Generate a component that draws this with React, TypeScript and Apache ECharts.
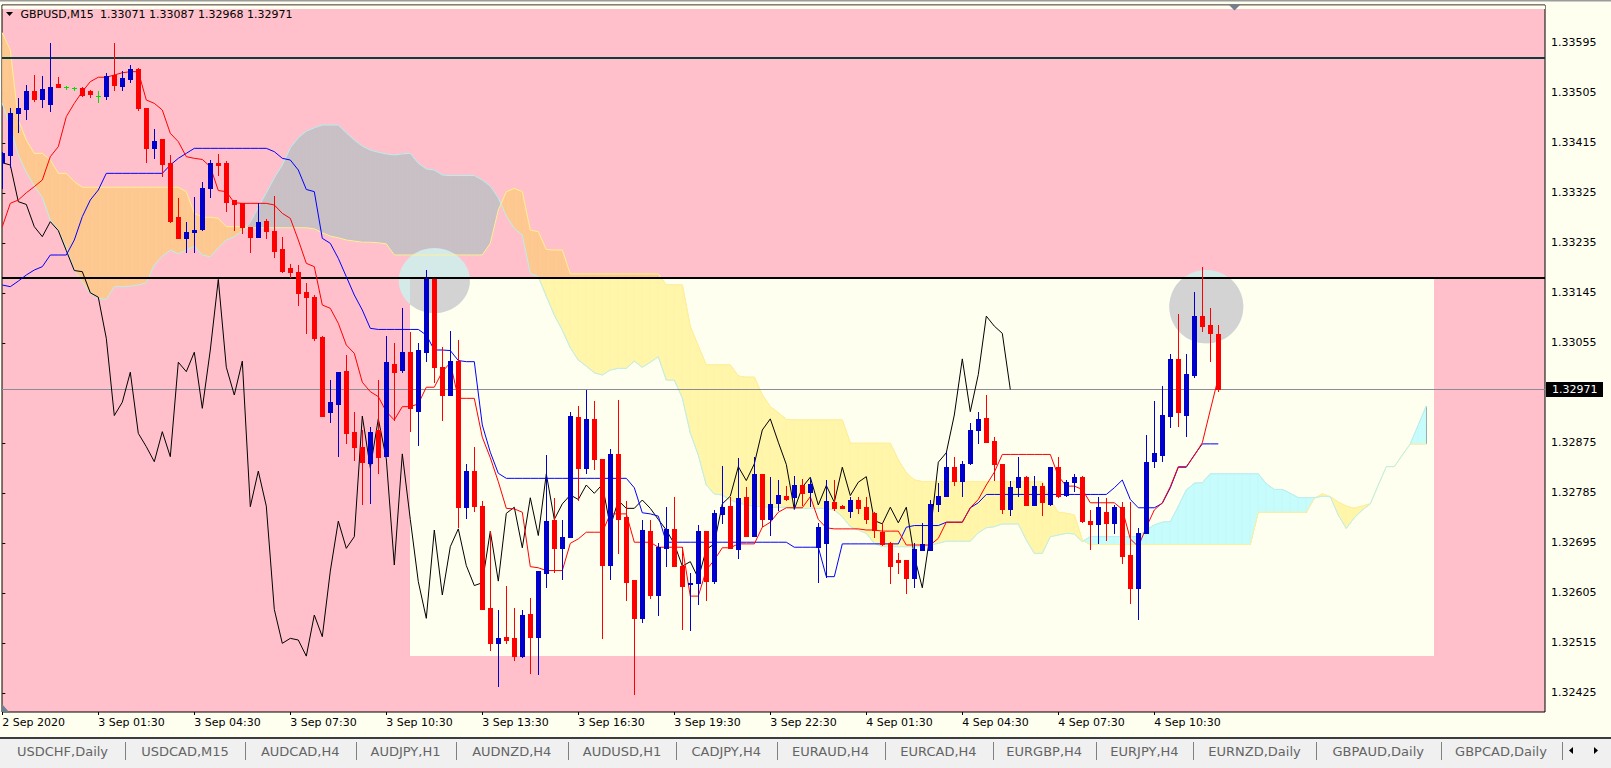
import React, { useEffect, useRef } from "react";
import * as echarts from "echarts";

// ---------- data (M15 bars, index 0 = 2 Sep 22:30) ----------
const SYMBOL = "GBPUSD,M15";

const OPEN = [
  1.3338, 1.33393, 1.33469, 1.33476, 1.33508, 1.33494, 1.33484, 1.3352, 1.33515, 1.33513,
  1.33513, 1.33508, 1.33499, 1.33499, 1.33537, 1.33517, 1.3353, 1.33548, 1.33478, 1.33406,
  1.33422, 1.33378, 1.33282, 1.33244, 1.33254, 1.33259, 1.33333, 1.33379, 1.33378, 1.33312,
  1.33306, 1.33264, 1.33246, 1.33275, 1.33257, 1.33224, 1.33189, 1.33183, 1.33146, 1.33137,
  1.33065, 1.3293, 1.32944, 1.33004, 1.32894, 1.32868, 1.32838, 1.32898, 1.32852, 1.33016,
  1.33006, 1.33038, 1.32932, 1.33039, 1.33169, 1.33011, 1.32961, 1.33022, 1.3276, 1.32824,
  1.32761, 1.32577, 1.32514, 1.32525, 1.32523, 1.32491, 1.32566, 1.32525, 1.3264, 1.32736,
  1.32685, 1.32705, 1.32922, 1.3283, 1.32918, 1.32846, 1.32655, 1.32855, 1.32742, 1.32628,
  1.32559, 1.32716, 1.32601, 1.32685, 1.3272, 1.32654, 1.3262, 1.32622, 1.32716, 1.32626,
  1.32746, 1.32761, 1.32683, 1.32778, 1.32708, 1.32819, 1.32737, 1.32766, 1.32779, 1.32777,
  1.32799, 1.32787, 1.32688, 1.32695, 1.32768, 1.32762, 1.32753, 1.32772, 1.32759, 1.32748,
  1.32715, 1.32694, 1.32664, 1.32664, 1.32631, 1.32682, 1.32682, 1.32765, 1.32779, 1.32832,
  1.32807, 1.32839, 1.32898, 1.32919, 1.32878, 1.32837, 1.32755, 1.32795, 1.32813, 1.32763,
  1.32798, 1.32765, 1.32832, 1.32781, 1.32804, 1.32814, 1.32735, 1.32729, 1.32751, 1.32731,
  1.32759, 1.32673, 1.32614, 1.32712, 1.32843, 1.32853, 1.32923, 1.33026, 1.32925, 1.32997,
  1.33103, 1.33087, 1.33071,
];
const HIGH = [
  1.33399, 1.33477, 1.33495, 1.33519, 1.33537, 1.33535, 1.33595, 1.33533, 1.33518, 1.33515,
  1.33515, 1.3351, 1.33509, 1.33541, 1.33594, 1.33544, 1.33555, 1.33549, 1.33478, 1.33439,
  1.33422, 1.33393, 1.33315, 1.33272, 1.33318, 1.33344, 1.33384, 1.33395, 1.33382, 1.33312,
  1.33306, 1.33264, 1.33306, 1.33278, 1.33319, 1.33245, 1.33197, 1.33195, 1.33163, 1.33141,
  1.33067, 1.32988, 1.33002, 1.33033, 1.3293, 1.32898, 1.32904, 1.32988, 1.33067, 1.33054,
  1.33117, 1.33075, 1.33055, 1.33186, 1.33169, 1.33048, 1.33076, 1.3306, 1.32836, 1.32867,
  1.3277, 1.32716, 1.32574, 1.32617, 1.32577, 1.32574, 1.32595, 1.32644, 1.32853, 1.32776,
  1.32736, 1.3293, 1.32942, 1.3297, 1.32951, 1.32846, 1.32863, 1.32952, 1.32771, 1.32628,
  1.32736, 1.32736, 1.32694, 1.32759, 1.32777, 1.32688, 1.3264, 1.32727, 1.32716, 1.32754,
  1.32833, 1.32778, 1.32847, 1.32795, 1.32849, 1.32819, 1.32814, 1.32808, 1.32797, 1.32815,
  1.32809, 1.32811, 1.3273, 1.32808, 1.32808, 1.32763, 1.32777, 1.32777, 1.32778, 1.32751,
  1.3273, 1.32696, 1.32676, 1.32664, 1.32694, 1.3273, 1.32772, 1.32802, 1.32859, 1.32849,
  1.32842, 1.32911, 1.3293, 1.32961, 1.32886, 1.32837, 1.32806, 1.3285, 1.32816, 1.32816,
  1.32802, 1.32831, 1.3285, 1.32808, 1.32819, 1.32815, 1.32754, 1.32778, 1.32775, 1.32763,
  1.32769, 1.32769, 1.32721, 1.32889, 1.3295, 1.32977, 1.33035, 1.33107, 1.33035, 1.33147,
  1.33192, 1.33118, 1.33087,
];
const LOW = [
  1.33334, 1.33372, 1.33435, 1.33457, 1.33491, 1.3348, 1.33472, 1.33515, 1.33512, 1.3351,
  1.33499, 1.33498, 1.33489, 1.33493, 1.3351, 1.3351, 1.33525, 1.33474, 1.33381, 1.33388,
  1.33356, 1.33272, 1.33244, 1.33218, 1.33218, 1.33258, 1.33318, 1.33357, 1.33292, 1.33258,
  1.33253, 1.33219, 1.33245, 1.33244, 1.3321, 1.33183, 1.33174, 1.33123, 1.33072, 1.3306,
  1.32924, 1.32913, 1.32852, 1.32874, 1.32844, 1.32764, 1.32766, 1.3282, 1.32852, 1.32916,
  1.33003, 1.32896, 1.32871, 1.33023, 1.32985, 1.32916, 1.32961, 1.32724, 1.3274, 1.32752,
  1.32575, 1.32502, 1.32437, 1.32514, 1.32484, 1.32489, 1.32461, 1.32459, 1.32615, 1.32643,
  1.32629, 1.32705, 1.32772, 1.32821, 1.32827, 1.32523, 1.32629, 1.32677, 1.32592, 1.32422,
  1.32553, 1.32595, 1.32565, 1.32653, 1.32654, 1.3254, 1.32538, 1.32584, 1.32592, 1.32623,
  1.3273, 1.32686, 1.32667, 1.32708, 1.32708, 1.32725, 1.32709, 1.32754, 1.32772, 1.32757,
  1.32763, 1.32761, 1.32625, 1.32634, 1.32754, 1.32757, 1.32742, 1.32748, 1.3273, 1.32705,
  1.32691, 1.32623, 1.3264, 1.32604, 1.32616, 1.32682, 1.32682, 1.32752, 1.32779, 1.32799,
  1.32779, 1.32836, 1.32875, 1.32876, 1.32808, 1.32748, 1.32745, 1.32779, 1.32763, 1.32763,
  1.32745, 1.32763, 1.32778, 1.32779, 1.32789, 1.32732, 1.32683, 1.32694, 1.327, 1.32712,
  1.32659, 1.32586, 1.32557, 1.32712, 1.32832, 1.32843, 1.32904, 1.32905, 1.32887, 1.32993,
  1.33077, 1.33023, 1.32968,
];
const CLOSE = [
  1.33397, 1.33468, 1.33477, 1.33508, 1.33494, 1.33511, 1.33515, 1.33515, 1.33515, 1.33513,
  1.33501, 1.33502, 1.33499, 1.33535, 1.33519, 1.33531, 1.33548, 1.33477, 1.33406, 1.33418,
  1.33377, 1.33274, 1.33244, 1.33254, 1.33258, 1.33334, 1.33379, 1.33375, 1.33309, 1.33304,
  1.33264, 1.33246, 1.33273, 1.33257, 1.33221, 1.33185, 1.33183, 1.33145, 1.33137, 1.33063,
  1.32924, 1.32948, 1.33002, 1.32892, 1.32868, 1.32841, 1.32895, 1.3285, 1.3302, 1.33003,
  1.33038, 1.32937, 1.33042, 1.33169, 1.33011, 1.32961, 1.33022, 1.3276, 1.32824, 1.32761,
  1.32575, 1.32514, 1.32523, 1.3252, 1.32491, 1.32565, 1.32526, 1.32644, 1.32734, 1.32685,
  1.32706, 1.32923, 1.3283, 1.32918, 1.32846, 1.32655, 1.32855, 1.32737, 1.32625, 1.32559,
  1.32718, 1.32601, 1.32688, 1.3272, 1.32654, 1.32618, 1.32623, 1.32716, 1.32626, 1.32748,
  1.32759, 1.32686, 1.32776, 1.32708, 1.32819, 1.32737, 1.32765, 1.32781, 1.32773, 1.32799,
  1.32784, 1.328, 1.32724, 1.32771, 1.32757, 1.32757, 1.32772, 1.32757, 1.32737, 1.32718,
  1.32693, 1.32653, 1.32661, 1.32631, 1.32683, 1.32693, 1.32765, 1.32779, 1.32832, 1.32807,
  1.32837, 1.32898, 1.32918, 1.32876, 1.32836, 1.32755, 1.32795, 1.32813, 1.32763, 1.32798,
  1.32768, 1.32831, 1.3278, 1.32804, 1.32814, 1.32735, 1.32729, 1.32759, 1.32731, 1.32759,
  1.32671, 1.32614, 1.32713, 1.3284, 1.32857, 1.32925, 1.33026, 1.32931, 1.32998, 1.33103,
  1.33085, 1.33072, 1.32971,
];

// Ichimoku lines as drawn (tenkan red, kijun blue), bars 0..152
const TENKAN = [
  1.33264, 1.33306, 1.33312, 1.33325, 1.33336, 1.33348, 1.3339, 1.33408, 1.33462, 1.33486,
  1.33507, 1.33525, 1.33533, 1.33533, 1.33537, 1.33541, 1.33543, 1.33543, 1.33492, 1.33486,
  1.33474, 1.33432, 1.33417, 1.3339, 1.33387, 1.33385, 1.33372, 1.33329, 1.33327, 1.33307,
  1.33306, 1.33306, 1.33306, 1.33306, 1.33303, 1.33288, 1.33279, 1.3324, 1.33198, 1.33192,
  1.33123, 1.33117, 1.3309, 1.33051, 1.33036, 1.32984, 1.32967, 1.32958, 1.32931, 1.32916,
  1.3294, 1.3294, 1.32945, 1.32975, 1.32975, 1.33003, 1.33019, 1.32955, 1.32955, 1.32955,
  1.32885, 1.32848, 1.32805, 1.32757, 1.32756, 1.3275, 1.32652, 1.3265, 1.32645, 1.32645,
  1.32645, 1.32694, 1.32702, 1.32714, 1.32714, 1.32714, 1.32747, 1.32747, 1.32747, 1.32696,
  1.32696, 1.32696, 1.32687, 1.32687, 1.32687, 1.32687, 1.32599, 1.32599, 1.32646, 1.32664,
  1.32686, 1.32686, 1.32693, 1.32693, 1.32693, 1.32723, 1.32732, 1.3275, 1.32758, 1.32758,
  1.32758, 1.32778, 1.32737, 1.32722, 1.3272, 1.3272, 1.3272, 1.3272, 1.32718, 1.32718,
  1.32716, 1.32716, 1.32716, 1.32691, 1.32691, 1.32691, 1.32691, 1.32703, 1.32732, 1.32732,
  1.32732, 1.32758, 1.32773, 1.32799, 1.32822, 1.32854, 1.32854, 1.32854, 1.32854, 1.32854,
  1.32854, 1.32854, 1.32815, 1.32797, 1.32797, 1.32791, 1.32767, 1.32767, 1.32767, 1.32767,
  1.32755, 1.32702, 1.32688, 1.32723, 1.32754, 1.32767, 1.32796, 1.32832, 1.32832, 1.32852,
  1.32875, 1.32934, 1.32992,
];
const KIJUN = [
  1.33159, 1.33156, 1.33166, 1.33177, 1.33186, 1.33192, 1.33213, 1.33213, 1.33213, 1.3324,
  1.33282, 1.33312, 1.3333, 1.3336, 1.3336, 1.3336, 1.3336, 1.3336, 1.3336, 1.3336,
  1.3336, 1.33375, 1.33387, 1.33396, 1.33405, 1.33405, 1.33405, 1.33405, 1.33405, 1.33405,
  1.33405, 1.33405, 1.33405, 1.33405, 1.33399, 1.33387, 1.33384, 1.33366, 1.33331, 1.33327,
  1.33243, 1.33234, 1.33207, 1.33174, 1.33141, 1.33114, 1.33081, 1.33079, 1.33079, 1.33079,
  1.33079, 1.33079, 1.33079, 1.33069, 1.33042, 1.33042, 1.33041, 1.33023, 1.33021, 1.33021,
  1.32907, 1.32858, 1.3282, 1.32811, 1.32811, 1.32811, 1.32811, 1.32811, 1.32811, 1.32811,
  1.32811, 1.32811, 1.32811, 1.32811, 1.32811, 1.32811, 1.32811, 1.32811, 1.32811, 1.32794,
  1.32749, 1.32747, 1.32743, 1.32696, 1.32696, 1.32696, 1.32696, 1.32696, 1.32696, 1.32696,
  1.32696, 1.32696, 1.32696, 1.32696, 1.32696, 1.32696, 1.32696, 1.32696, 1.32696, 1.32687,
  1.32687, 1.32687, 1.32687, 1.32634, 1.32634, 1.32693, 1.32693, 1.32693, 1.32693, 1.32693,
  1.32693, 1.32693, 1.32693, 1.32723, 1.32726, 1.32726, 1.32726, 1.32726, 1.32732, 1.32732,
  1.32732, 1.32758, 1.32767, 1.32782, 1.32782, 1.32782, 1.32782, 1.32782, 1.32782, 1.32782,
  1.32782, 1.32782, 1.32782, 1.32782, 1.32782, 1.32782, 1.32782, 1.32782, 1.32782, 1.32794,
  1.32808, 1.32773, 1.32758, 1.32758, 1.32758, 1.32766, 1.32794, 1.32831, 1.32831, 1.32853,
  1.32873, 1.32873, 1.32873,
];
// Senkou spans as drawn (already shifted 26 bars ahead), bars 0..178
const SPAN_A = [
  1.33613, 1.33582, 1.33456, 1.3342, 1.33396, 1.33396, 1.33384, 1.3336, 1.3336, 1.33345,
  1.33335, 1.33335, 1.33335, 1.33335, 1.33335, 1.33335, 1.33335, 1.33335, 1.33335, 1.33335,
  1.33335, 1.33335, 1.33335, 1.33327, 1.33288, 1.33281, 1.33281, 1.33279, 1.33264, 1.33264,
  1.33264, 1.33262, 1.33262, 1.33262, 1.33262, 1.33262, 1.33262, 1.33262, 1.33262, 1.3326,
  1.33253, 1.33247, 1.33244, 1.3324, 1.33238, 1.33236, 1.33236, 1.33235, 1.33233, 1.33213,
  1.33213, 1.33213, 1.33213, 1.33213, 1.33213, 1.33213, 1.33213, 1.33213, 1.33213, 1.33213,
  1.33213, 1.33234, 1.33294, 1.33327, 1.33333, 1.33327, 1.33258, 1.33255, 1.33223, 1.33222,
  1.33222, 1.33179, 1.33179, 1.33179, 1.33179, 1.33179, 1.33179, 1.33179, 1.33179, 1.33179,
  1.33179, 1.33179, 1.33179, 1.33159, 1.33159, 1.33159, 1.33084, 1.33049, 1.33015, 1.33015,
  1.33015, 1.33015, 1.32995, 1.32993, 1.32993, 1.32961, 1.3294, 1.32929, 1.32917, 1.32916,
  1.32916, 1.32916, 1.32916, 1.32916, 1.32916, 1.32916, 1.32874, 1.32874, 1.32874, 1.32874,
  1.32874, 1.32874, 1.32844, 1.32821, 1.32808, 1.32805, 1.32805, 1.32805, 1.32805, 1.32805,
  1.32805, 1.32805, 1.32805, 1.32805, 1.32805, 1.32805, 1.32805, 1.32805, 1.32805, 1.32805,
  1.32805, 1.32772, 1.3275, 1.32748, 1.32745, 1.327, 1.32692, 1.32692, 1.32692, 1.32692,
  1.32692, 1.32692, 1.32692, 1.32692, 1.32692, 1.32692, 1.32692, 1.32692, 1.32692, 1.32692,
  1.32692, 1.32692, 1.32692, 1.32692, 1.32692, 1.32692, 1.32692, 1.3275, 1.3275, 1.3275,
  1.3275, 1.3275, 1.3275, 1.3275, 1.32775, 1.32783, 1.32778, 1.32768, 1.32761, 1.32757,
  1.32761, 1.32765, 1.32799, 1.32832, 1.32832, 1.32853, 1.32873, 1.32873, 1.32873,
];
const SPAN_B = [
  1.33486, 1.33444, 1.33393, 1.33362, 1.33337, 1.33317, 1.33276, 1.33258, 1.33226, 1.33186,
  1.33164, 1.33144, 1.33135, 1.33133, 1.33156, 1.33156, 1.33157, 1.33159, 1.33163, 1.33195,
  1.33211, 1.33222, 1.33215, 1.33222, 1.33229, 1.33213, 1.3321, 1.33226, 1.3324, 1.33246,
  1.33256, 1.33272, 1.33299, 1.33325, 1.33352, 1.33375, 1.33406, 1.33424, 1.33436, 1.33442,
  1.33447, 1.33447, 1.33447, 1.33433, 1.3342, 1.33409, 1.33402, 1.33398, 1.33395, 1.33393,
  1.33395, 1.33396, 1.33378, 1.33368, 1.33366, 1.33357, 1.33356, 1.33356, 1.33356, 1.33356,
  1.33348, 1.33337, 1.33316, 1.33283, 1.33261, 1.33249, 1.3318, 1.33174, 1.33139, 1.33105,
  1.33078, 1.33046, 1.33024, 1.33013, 1.33001, 1.32997, 1.33006, 1.33009, 1.33009, 1.33022,
  1.33011, 1.3302, 1.3303, 1.32988, 1.32988, 1.32956, 1.32893, 1.32853, 1.32799, 1.32783,
  1.32781, 1.32772, 1.32767, 1.32763, 1.32761, 1.3276, 1.32759, 1.32759, 1.32759, 1.32757,
  1.32757, 1.32757, 1.32757, 1.32757, 1.32754, 1.32742, 1.32724, 1.32718, 1.32712, 1.32694,
  1.32688, 1.32688, 1.32688, 1.32688, 1.32688, 1.32688, 1.32691, 1.32694, 1.32698, 1.32698,
  1.32698, 1.32698, 1.32713, 1.32722, 1.32724, 1.32729, 1.32729, 1.32729, 1.327, 1.32676,
  1.32676, 1.32706, 1.32709, 1.32712, 1.32711, 1.32697, 1.32706, 1.32706, 1.32706, 1.32706,
  1.32706, 1.32706, 1.32706, 1.32718, 1.32727, 1.32732, 1.32733, 1.3276, 1.3279, 1.32802,
  1.32803, 1.32819, 1.32819, 1.32819, 1.32819, 1.32819, 1.32819, 1.32819, 1.32801, 1.32791,
  1.32791, 1.32784, 1.32776, 1.32776, 1.32776, 1.32779, 1.32778, 1.32745, 1.32721, 1.3274,
  1.32754, 1.32765, 1.32799, 1.32832, 1.32832, 1.32853, 1.32873, 1.32907, 1.32941,
];
const CHIKOU_SHIFT = 26; // lagging span = close plotted 26 bars back

const TIME_BARS = [0, 12, 24, 36, 48, 60, 72, 84, 96, 108, 120, 132, 144];
const TIME_LABELS = [
  "2 Sep 2020", "3 Sep 01:30", "3 Sep 04:30", "3 Sep 07:30", "3 Sep 10:30", "3 Sep 13:30",
  "3 Sep 16:30", "3 Sep 19:30", "3 Sep 22:30", "4 Sep 01:30", "4 Sep 04:30", "4 Sep 07:30", "4 Sep 10:30",
];
// the 1.32965 level sits under the bid tag, so its label is not shown
const PRICE_TICKS = [
  1.32425, 1.32515, 1.32605, 1.32695, 1.32785, 1.32875,
  1.33055, 1.33145, 1.33235, 1.33325, 1.33415, 1.33505, 1.33595,
];
const H_LINE_PRICES = [1.33567, 1.33171];
const BID = 1.32971;
// chart objects (time = bar index, price)
const BOX_BARS = [51, 179];
const BOX_PRICES = [1.33171, 1.32492];
const ELLIPSE_BARS = [54, 150.5];
const ELLIPSE_PRICES = [1.33167, 1.3312];
const ELLIPSE_HALF_BARS = [4.44, 4.62];
const ELLIPSE_HALF_PRICES = [0.000585, 0.00066];
const TABS = [
  "USDCHF,Daily", "USDCAD,M15", "AUDCAD,H4", "AUDJPY,H1", "AUDNZD,H4", "AUDUSD,H1", "CADJPY,H4",
  "EURAUD,H4", "EURCAD,H4", "EURGBP,H4", "EURJPY,H4", "EURNZD,Daily", "GBPAUD,Daily", "GBPCAD,Daily",
];

// ---------- layout & style ----------
const X_MIN = -0.0375;
const X_MAX = 192.8375;
const Y_MIN = 1.323904;
const Y_MAX = 1.33663;
const TAB_SEPARATORS = [125, 245, 355.5, 455.5, 568, 676, 776.5, 884.5, 992.5, 1096, 1193, 1316, 1440.5, 1561.5];
const PINK = "#FFC0CB";
const IVORY = "#FFFFF0";
const KUMO_UP_PINK = "#FEC891";
const KUMO_DN_PINK = "#C9C0C5";
const KUMO_UP_IVORY = "#FFF6AA";
const KUMO_DN_IVORY = "#C6FCFC";
const BULL = "#0000CC";
const BEAR = "#FF0000";
const DOJI = "#00DD00";
const H_LINE_COLORS = ["#0E3C3C", "#000000"];
const FONT = '"DejaVu Sans", sans-serif';

type Pt = [number, number];

function clipHalf(pts: Pt[], axis: 0 | 1, val: number, keepGE: boolean): Pt[] {
  const out: Pt[] = [];
  const n = pts.length;
  for (let k = 0; k < n; k++) {
    const cur = pts[k];
    const prev = pts[(k + n - 1) % n];
    const cin = keepGE ? cur[axis] >= val : cur[axis] <= val;
    const pin = keepGE ? prev[axis] >= val : prev[axis] <= val;
    if (cin !== pin) {
      const t = (val - prev[axis]) / (cur[axis] - prev[axis]);
      out.push([prev[0] + t * (cur[0] - prev[0]), prev[1] + t * (cur[1] - prev[1])]);
    }
    if (cin) out.push(cur);
  }
  return out;
}
function clipToBox(pts: Pt[], b: number[]): Pt[] {
  let p = clipHalf(pts, 0, b[0], true);
  if (p.length) p = clipHalf(p, 0, b[2], false);
  if (p.length) p = clipHalf(p, 1, b[1], true);
  if (p.length) p = clipHalf(p, 1, b[3], false);
  return p;
}
function polyArea(pts: Pt[]): number {
  let s = 0;
  for (let k = 0; k < pts.length; k++) {
    const a = pts[k];
    const b = pts[(k + 1) % pts.length];
    s += a[0] * b[1] - b[0] * a[1];
  }
  return Math.abs(s / 2);
}

export default function App() {
  const ref = useRef<HTMLDivElement | null>(null);

  useEffect(() => {
    if (!ref.current) return;
    document.documentElement.style.margin = "0";
    document.body.style.margin = "0";
    document.body.style.background = IVORY;
    const chart = echarts.init(ref.current, null, { renderer: "svg" });

    const boxPx = (api: any) => {
      const a = api.coord([BOX_BARS[0], BOX_PRICES[0]]);
      const b = api.coord([BOX_BARS[1], BOX_PRICES[1]]);
      return [Math.round(a[0]), Math.round(a[1]), Math.round(b[0]), Math.round(b[1])];
    };

    // polygons of one kumo segment (bar i -> i+1), split where the spans cross
    const kumoPolys = (api: any): [Pt[], boolean][] => {
      const i = api.value(0);
      const a0 = api.value(1), b0 = api.value(2), a1 = api.value(3), b1 = api.value(4);
      const PA0 = api.coord([i, a0]) as Pt;
      const PB0 = api.coord([i, b0]) as Pt;
      const PA1 = api.coord([i + 1, a1]) as Pt;
      const PB1 = api.coord([i + 1, b1]) as Pt;
      const d0 = a0 - b0, d1 = a1 - b1;
      const polys: [Pt[], boolean][] = [];
      if (d0 * d1 < 0) {
        const t = d0 / (d0 - d1);
        const X: Pt = [PA0[0] + t * (PA1[0] - PA0[0]), PA0[1] + t * (PA1[1] - PA0[1])];
        polys.push([[PA0, X, PB0], d0 > 0]);
        polys.push([[X, PA1, PB1], d1 > 0]);
      } else {
        polys.push([[PA0, PA1, PB1, PB0], d0 + d1 > 0]);
      }
      return polys.filter(([pts]) => polyArea(pts) >= 0.05);
    };

    const cloudData = SPAN_A.slice(0, -1).map((a, i) => [i, a, SPAN_B[i], SPAN_A[i + 1], SPAN_B[i + 1]]);
    const candleData = OPEN.map((o, i) => [i, o, CLOSE[i], LOW[i], HIGH[i]]);
    const chikouData = CLOSE.slice(CHIKOU_SHIFT).map((c, i) => [i, c]);
    const last = OPEN.length - 1;

    const lineSeries = (data: number[][], color: string, z: number) => ({
      type: "line",
      data,
      symbol: "none",
      showSymbol: false,
      silent: true,
      z,
      lineStyle: { color, width: 1 },
      itemStyle: { color },
      emphasis: { disabled: true },
    });

    const graphic: any[] = [
      { type: "rect", z: 100, silent: true, shape: { x: 0, y: 0, width: 1611, height: 1.5 }, style: { fill: "#9B9B9B" } },
      { type: "rect", z: 100, silent: true, shape: { x: 2.5, y: 5.5, width: 1542.5, height: 3.5 }, style: { fill: IVORY } },
      { type: "polygon", z: 101, silent: true, shape: { points: [[6, 12], [13, 12], [9.5, 16]] }, style: { fill: "#000" } },
      {
        type: "text", z: 101, silent: true,
        style: { text: SYMBOL, x: 20.5, y: 14.5, fill: "#000", font: `11px ${FONT}`, verticalAlign: "middle", textVerticalAlign: "middle" },
      },
      {
        type: "text", z: 101, silent: true,
        style: {
          text: [OPEN[last], HIGH[last], LOW[last], CLOSE[last]].map((v) => v.toFixed(5)).join(" "),
          x: 100, y: 14.5, fill: "#000", font: `11px ${FONT}`, verticalAlign: "middle", textVerticalAlign: "middle",
        },
      },
      { type: "polygon", z: 101, silent: true, shape: { points: [[1229, 5], [1240, 5], [1234.5, 10.5]] }, style: { fill: "#708090" } },
      { type: "polygon", z: 101, silent: true, shape: { points: [[2, 704], [2, 712], [9, 712]] }, style: { fill: "#6E7F8F" } },
      { type: "rect", z: 100, silent: true, shape: { x: 0, y: 739, width: 1611, height: 29 }, style: { fill: "#F0F0F0" } },
      { type: "rect", z: 100, silent: true, shape: { x: 0, y: 737, width: 1611, height: 2 }, style: { fill: "#3C3C3C" } },
      { type: "polygon", z: 101, silent: true, shape: { points: [[1569, 750.5], [1573, 747], [1573, 754]] }, style: { fill: "#000" } },
      { type: "polygon", z: 101, silent: true, shape: { points: [[1594, 747], [1594, 754], [1598, 750.5]] }, style: { fill: "#000" } },
    ];
    TABS.forEach((name, k) => {
      const left = k === 0 ? 0 : TAB_SEPARATORS[k - 1];
      const right = TAB_SEPARATORS[k];
      graphic.push({
        type: "text", z: 101, silent: true,
        style: {
          text: name, x: (left + right) / 2, y: 751, fill: "#646464", font: `13px ${FONT}`,
          align: "center", textAlign: "center", verticalAlign: "middle", textVerticalAlign: "middle",
        },
      });
      graphic.push({
        type: "rect", z: 101, silent: true,
        shape: { x: Math.round(right), y: 742, width: 1, height: 18 }, style: { fill: "#808080" },
      });
    });

    const option: any = {
      animation: false,
      backgroundColor: IVORY,
      tooltip: { show: false },
      grid: {
        left: 2, right: 66, top: 5, bottom: 56, show: true,
        backgroundColor: PINK, borderColor: "#000", borderWidth: 1,
        containLabel: false, outerBoundsMode: "none",
      },
      xAxis: {
        type: "value", min: X_MIN, max: X_MAX,
        axisLine: { show: false },
        splitLine: { show: false },
        axisTick: { show: true, customValues: TIME_BARS, length: 3, lineStyle: { color: "#000" } },
        axisLabel: {
          customValues: TIME_BARS,
          formatter: (v: number) => {
            const k = TIME_BARS.indexOf(Math.round(v));
            return k >= 0 ? TIME_LABELS[k] : "";
          },
          align: "left", margin: 5, color: "#000", fontSize: 11, fontFamily: FONT,
        },
      },
      yAxis: {
        type: "value", position: "right", min: Y_MIN, max: Y_MAX, scale: true,
        axisLine: { show: false },
        splitLine: { show: false },
        axisTick: { show: true, customValues: PRICE_TICKS, length: 3, lineStyle: { color: "#000" } },
        axisLabel: {
          customValues: PRICE_TICKS,
          formatter: (v: number) => v.toFixed(5),
          margin: 6, color: "#000", fontSize: 11, fontFamily: FONT,
        },
      },
      series: [
        // ivory rectangle object
        {
          type: "custom", z: 1, silent: true, clip: true,
          data: [[BOX_BARS[0], BOX_PRICES[0], BOX_BARS[1], BOX_PRICES[1]]],
          renderItem: (_p: any, api: any) => {
            const r = boxPx(api);
            return { type: "rect", shape: { x: r[0], y: r[1], width: r[2] - r[0], height: r[3] - r[1] }, style: { fill: IVORY } };
          },
        },
        // kumo as seen over the pink background
        {
          type: "custom", z: 2, silent: true, clip: true,
          data: cloudData,
          renderItem: (_p: any, api: any) => {
            const children: any[] = kumoPolys(api).map(([pts, up]) => {
              const col = up ? KUMO_UP_PINK : KUMO_DN_PINK;
              return { type: "polygon", shape: { points: pts }, style: { fill: col, stroke: col, lineWidth: 0.7 } };
            });
            const i = api.value(0);
            if (i + 1 === SPAN_A.length - 1) {
              const pa = api.coord([i + 1, api.value(3)]);
              const pb = api.coord([i + 1, api.value(4)]);
              const x = Math.round(pa[0]) + 0.5;
              children.push({ type: "line", shape: { x1: x, y1: pa[1], x2: x, y2: pb[1] }, style: { stroke: "#3A0000", lineWidth: 1 } });
            }
            return { type: "group", children };
          },
        },
        // kumo as seen over the ivory rectangle
        {
          type: "custom", z: 3, silent: true, clip: true,
          data: cloudData,
          renderItem: (_p: any, api: any) => {
            const box = boxPx(api);
            const children: any[] = [];
            kumoPolys(api).forEach(([pts, up]) => {
              const c = clipToBox(pts, box);
              if (c.length >= 3 && polyArea(c) > 0.01) {
                const col = up ? KUMO_UP_IVORY : KUMO_DN_IVORY;
                children.push({ type: "polygon", shape: { points: c }, style: { fill: col, stroke: col, lineWidth: 0.7 } });
              }
            });
            return { type: "group", children };
          },
        },
        // ellipse objects
        {
          type: "custom", z: 4, silent: true, clip: true,
          data: ELLIPSE_BARS.map((b, k) => [b, ELLIPSE_PRICES[k], ELLIPSE_HALF_BARS[k], ELLIPSE_HALF_PRICES[k]]),
          renderItem: (_p: any, api: any) => {
            const c = api.coord([api.value(0), api.value(1)]);
            const s = api.size([api.value(2), api.value(3)]);
            const pts: Pt[] = [];
            for (let k = 0; k < 96; k++) {
              const a = (k / 96) * Math.PI * 2;
              pts.push([c[0] + s[0] * Math.cos(a), c[1] + s[1] * Math.sin(a)]);
            }
            const box = boxPx(api);
            const inner = clipToBox(pts, box);
            const children: any[] = [{ type: "polygon", shape: { points: pts }, style: { fill: "#D3EAE8" } }];
            if (inner.length >= 3) children.push({ type: "polygon", shape: { points: inner }, style: { fill: "#D3D3D3" } });
            return { type: "group", children };
          },
        },
        lineSeries(SPAN_A.map((v, i) => [i, v]), "#FFF096", 5),
        lineSeries(SPAN_B.map((v, i) => [i, v]), "#B8F0F0", 5),
        // horizontal line objects
        {
          type: "custom", z: 6, silent: true, clip: true,
          data: H_LINE_PRICES.map((p, k) => [0, p, k]),
          renderItem: (params: any, api: any) => {
            const cs = params.coordSys;
            const y = Math.round(api.coord([0, api.value(1)])[1]);
            return { type: "rect", shape: { x: cs.x, y: y - 1, width: cs.width, height: 2 }, style: { fill: H_LINE_COLORS[api.value(2)] } };
          },
        },
        // bid line
        {
          type: "custom", z: 6, silent: true, clip: true,
          data: [[0, BID]],
          renderItem: (params: any, api: any) => {
            const cs = params.coordSys;
            const y = Math.round(api.coord([0, api.value(1)])[1]) + 0.5;
            return { type: "line", shape: { x1: cs.x, y1: y, x2: cs.x + cs.width, y2: y }, style: { stroke: "#8A8C96", lineWidth: 1 } };
          },
        },
        lineSeries(chikouData, "#000000", 7),
        lineSeries(KIJUN.map((v, i) => [i, v]), "#0000FF", 7),
        lineSeries(TENKAN.map((v, i) => [i, v]), "#FF0000", 7),
        // candles
        {
          type: "custom", z: 8, silent: true, clip: true,
          data: candleData,
          renderItem: (_p: any, api: any) => {
            const i = api.value(0), o = api.value(1), c = api.value(2), l = api.value(3), h = api.value(4);
            const po = api.coord([i, o]), pc = api.coord([i, c]);
            const yl = Math.round(api.coord([i, l])[1]);
            const yh = Math.round(api.coord([i, h])[1]);
            const x = Math.round(po[0]);
            const color = c > o ? BULL : c < o ? BEAR : DOJI;
            const top = Math.round(Math.min(po[1], pc[1]));
            const bot = Math.round(Math.max(po[1], pc[1]));
            return {
              type: "group",
              children: [
                { type: "rect", shape: { x, y: yh, width: 1, height: Math.max(1, yl - yh + 1) }, style: { fill: color } },
                { type: "rect", shape: { x: x - 2, y: top, width: 5, height: c === o ? 1 : bot - top + 1 }, style: { fill: color } },
              ],
            };
          },
        },
        // bid price tag on the axis
        {
          type: "custom", z: 9, silent: true, clip: false,
          data: [[0, BID]],
          renderItem: (params: any, api: any) => {
            const cs = params.coordSys;
            const y = Math.round(api.coord([0, api.value(1)])[1]);
            const x = cs.x + cs.width + 1;
            return {
              type: "group",
              children: [
                { type: "rect", shape: { x, y: y - 7, width: 57, height: 15 }, style: { fill: "#000" } },
                {
                  type: "text",
                  style: {
                    text: api.value(1).toFixed(5), x: x + 6, y: y + 0.5, fill: "#FFFFFF", font: `11px ${FONT}`,
                    align: "left", textAlign: "left", verticalAlign: "middle", textVerticalAlign: "middle",
                  },
                },
              ],
            };
          },
        },
      ],
      graphic,
    };

    chart.setOption(option);
    return () => chart.dispose();
  }, []);

  return (
    <div
      ref={ref}
      style={{ position: "relative", margin: 0, width: 1611, height: 768, background: IVORY }}
    />
  );
}
